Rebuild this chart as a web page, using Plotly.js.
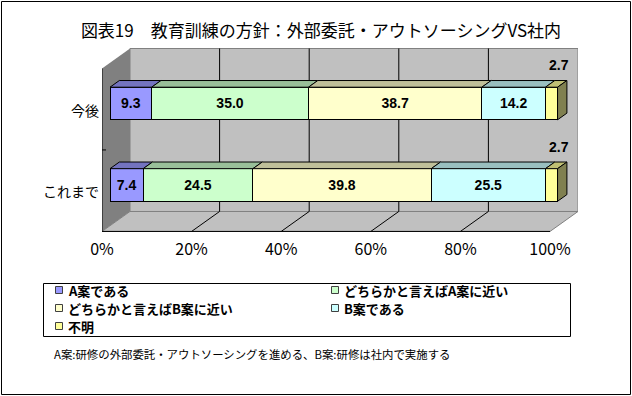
<!DOCTYPE html>
<html>
<head>
<meta charset="utf-8">
<script src="https://cdn.plot.ly/plotly-3.0.1.min.js"></script>
<style>html,body{margin:0;padding:0;background:#fff;}#chart{width:632px;height:396px;}</style>
</head>
<body>
<div id="chart"></div>
<script>
// ---- data ----
const categories = ['これまで', '今後'];
const seriesNames = ['A案である', 'どちらかと言えばA案に近い', 'どちらかと言えばB案に近い', 'B案である', '不明'];
const valuesA = [7.4, 9.3];
const valuesAnear = [24.5, 35.0];
const valuesBnear = [39.8, 38.7];
const valuesB = [25.5, 14.2];
const valuesUnknown = [2.7, 2.7];
const tickValues = [0, 20, 40, 60, 80, 100];
const tickLabels = ['0%', '20%', '40%', '60%', '80%', '100%'];
const titleText = '図表19　教育訓練の方針：外部委託・アウトソーシングVS社内';
const noteText = 'A案:研修の外部委託・アウトソーシングを進める、B案:研修は社内で実施する';

// ---- styles ----
const frontColors = ['#9999FF', '#CCFFCC', '#FFFFCC', '#CCFFFF', '#FFFF99'];
const topColors = ['#7373BF', '#99BF99', '#BFBF99', '#99BFBF', '#BFBF73'];
const sideColor = '#808050';
const JP = '"Noto Sans CJK JP", "Noto Sans", sans-serif';
const NUM = '"Liberation Sans", Arial, sans-serif';

const series = [valuesA, valuesAnear, valuesBnear, valuesB, valuesUnknown];

// layout geometry
const W = 632, H = 396;
const M = {l: 102, r: 54, t: 48, b: 164};
const PW = W - M.l - M.r, PH = H - M.t - M.b;
const DX = 6.25, DY = 0.245;     // full depth offset in data units
const B0 = 0.286, B1 = 0.62;      // bar front/back depth
const HW = 0.2;                   // bar half width
const XR = [-DX * B0, -DX * B0 + PW / 4.48];
const YR = [-0.577, 1.681];

function P(pct, yy, depth) { return [pct + DX * (depth - B0), yy + DY * (depth - B0)]; }
function path(pts) { return 'M' + pts.map(p => p[0].toFixed(4) + ',' + p[1].toFixed(4)).join('L') + 'Z'; }
function px2x(px) { return (px - M.l) / PW; }
function px2y(py) { return (H - M.b - py) / PH; }

const shapes = [];
const yLo = -0.5, yHi = categories.length - 0.5;
// left wall
shapes.push({type: 'path', layer: 'below', xref: 'x', yref: 'y',
  path: path([P(0, yLo, 0), P(0, yHi, 0), P(0, yHi, 1), P(0, yLo, 1)]),
  fillcolor: '#808080', line: {width: 0}});
// floor
shapes.push({type: 'path', layer: 'below', xref: 'x', yref: 'y',
  path: path([P(0, yLo, 0), P(100, yLo, 0), P(100, yLo, 1), P(0, yLo, 1)]),
  fillcolor: '#C0C0C0', line: {color: '#808080', width: 1}});
// back wall
shapes.push({type: 'path', layer: 'below', xref: 'x', yref: 'y',
  path: path([P(0, yLo, 1), P(100, yLo, 1), P(100, yHi, 1), P(0, yHi, 1)]),
  fillcolor: '#C0C0C0', line: {color: '#808080', width: 1}});
// gridlines
tickValues.forEach(v => {
  if (v === 0 || v === 100) return;
  const a = P(v, yLo, 1), b = P(v, yHi, 1);
  shapes.push({type: 'line', layer: 'below', xref: 'x', yref: 'y', x0: a[0], y0: a[1], x1: b[0], y1: b[1], line: {color: '#000', width: 1}});
  const c = P(v, yLo, 0);
  shapes.push({type: 'line', layer: 'below', xref: 'x', yref: 'y', x0: c[0], y0: c[1], x1: a[0], y1: a[1], line: {color: '#000', width: 1}});
});
// axis lines
{
  const a = P(0, yLo, 0), b = P(100, yLo, 0), c = P(0, yHi, 0);
  shapes.push({type: 'line', layer: 'below', xref: 'x', yref: 'y', x0: a[0], y0: a[1], x1: b[0], y1: b[1], line: {color: '#000', width: 1}});
  shapes.push({type: 'line', layer: 'below', xref: 'x', yref: 'y', x0: a[0], y0: a[1], x1: c[0], y1: c[1], line: {color: '#000', width: 1}});
  for (let k = 1; k < categories.length; k++) {
    const t = P(0, k - 0.5, 0);
    shapes.push({type: 'line', layer: 'below', xref: 'x', yref: 'y', x0: t[0], y0: t[1], x1: t[0] + 0.9, y1: t[1], line: {color: '#000', width: 1}});
  }
}
// 3D bar tops & side
const totals = categories.map((c, i) => series.reduce((s, arr) => s + arr[i], 0));
categories.forEach((c, i) => {
  let start = 0;
  series.forEach((arr, j) => {
    const end = start + arr[i];
    shapes.push({type: 'path', layer: 'above', xref: 'x', yref: 'y',
      path: path([P(start, i + HW, B0), P(end, i + HW, B0), P(end, i + HW, B1), P(start, i + HW, B1)]),
      fillcolor: topColors[j], line: {color: '#000', width: 1}});
    start = end;
  });
  shapes.push({type: 'path', layer: 'above', xref: 'x', yref: 'y',
    path: path([P(start, i - HW, B0), P(start, i + HW, B0), P(start, i + HW, B1), P(start, i - HW, B1)]),
    fillcolor: sideColor, line: {color: '#000', width: 1}});
});

// chart border
shapes.push({type: 'rect', xref: 'paper', yref: 'paper', x0: px2x(1.5), x1: px2x(630.5), y0: px2y(1.5), y1: px2y(394.5), line: {color: '#000', width: 1}});

// manual legend
const annotations = [];
shapes.push({type: 'rect', xref: 'paper', yref: 'paper', x0: px2x(43.5), x1: px2x(570.5), y0: px2y(283.5), y1: px2y(336.5), line: {color: '#000', width: 1}, fillcolor: '#fff'});
const legCols = [55.5, 331.5], legRows = [290, 308, 326];
seriesNames.forEach((name, j) => {
  const cx = legCols[j % 2], cy = legRows[Math.floor(j / 2)];
  shapes.push({type: 'rect', xref: 'paper', yref: 'paper', x0: px2x(cx), x1: px2x(cx + 7), y0: px2y(cy - 3.5), y1: px2y(cy + 3.5),
    fillcolor: frontColors[j], line: {color: '#404040', width: 1}});
  annotations.push({xref: 'paper', yref: 'paper', x: px2x(cx + 10), y: px2y(cy), xanchor: 'left', yanchor: 'middle', showarrow: false,
    text: name, font: {family: JP, size: 13, color: '#000', weight: 'bold'}});
});
// note
annotations.push({xref: 'paper', yref: 'paper', x: px2x(52), y: px2y(354), xanchor: 'left', yanchor: 'middle', showarrow: false,
  text: noteText, font: {family: JP, size: 11.4, color: '#000'}});
// labels for last (thin) segment
categories.forEach((c, i) => {
  annotations.push({xref: 'x', yref: 'y', x: totals[i] + 0.4, y: i + 0.47, showarrow: false, xanchor: 'center', yanchor: 'middle',
    text: valuesUnknown[i].toFixed(1), font: {family: NUM, size: 14, color: '#000', weight: 'bold'}});
});

const traces = series.map((arr, j) => ({
  type: 'bar', orientation: 'h', name: seriesNames[j],
  x: arr, y: categories.map((c, i) => i), width: HW * 2,
  marker: {color: frontColors[j], line: {color: '#000', width: 1}},
  text: j === series.length - 1 ? arr.map(() => '') : arr.map(v => v.toFixed(1)),
  textposition: j === series.length - 1 ? 'none' : 'inside', insidetextanchor: 'middle', textangle: 0,
  constraintext: 'none',
  insidetextfont: {family: NUM, size: 14, color: '#000', weight: 'bold'},
  hoverinfo: 'skip', showlegend: false
}));

const layout = {
  width: W, height: H, margin: M,
  paper_bgcolor: '#fff', plot_bgcolor: 'rgba(0,0,0,0)',
  barmode: 'stack', showlegend: false,
  title: {text: titleText, x: 321 / W, xref: 'container', xanchor: 'center', y: 1 - 31 / H, yref: 'container', yanchor: 'middle',
    font: {family: JP, size: 17, color: '#000'}},
  xaxis: {range: XR, tickvals: tickValues.map(v => P(v, yLo, 0)[0]), ticktext: tickLabels,
    showgrid: false, zeroline: false, showline: false, ticks: '', ticklabelstandoff: 6,
    tickfont: {family: JP, size: 16, color: '#000'}},
  yaxis: {range: YR, tickvals: categories.map((c, i) => i - DY * B0 - 0.02), ticktext: categories,
    showgrid: false, zeroline: false, showline: false, ticks: '', ticklabelstandoff: 2,
    tickfont: {family: JP, size: 14, color: '#000'}},
  shapes: shapes, annotations: annotations
};

Plotly.newPlot('chart', traces, layout, {displayModeBar: false, staticPlot: true});
</script>
</body>
</html>
